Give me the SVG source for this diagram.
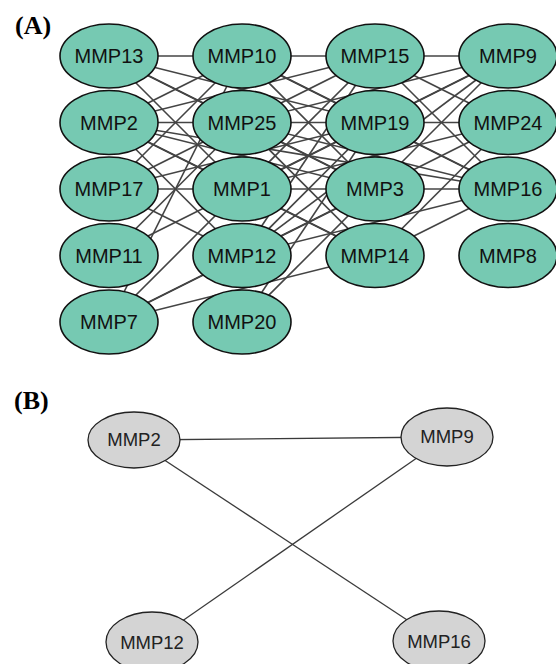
<svg xmlns="http://www.w3.org/2000/svg" width="556" height="664" viewBox="0 0 556 664">
<style>
.lab{font-family:"Liberation Serif","Times New Roman",serif;font-weight:bold;font-size:26px;fill:#000}
.na ellipse{fill:#76c9b2;stroke:#111;stroke-width:1.6}
.na text{font-family:"Liberation Sans",Arial,sans-serif;font-size:20px;fill:#111;text-anchor:middle}
.nb ellipse{fill:#d4d4d4;stroke:#222;stroke-width:1.3}
.nb text{font-family:"Liberation Sans",Arial,sans-serif;font-size:18.5px;fill:#222;text-anchor:middle}
#edgesA line{stroke:#444;stroke-width:1.6}
#edgesB line{stroke:#3a3a3a;stroke-width:1.3}
</style>
<rect width="556" height="664" fill="#fff"/>
<text class="lab" x="15" y="34">(A)</text>
<text class="lab" x="14" y="409">(B)</text>
<g id="edgesA">
<line x1="109" y1="56" x2="242" y2="56"/>
<line x1="242" y1="56" x2="375" y2="56"/>
<line x1="375" y1="56" x2="508" y2="56"/>
<line x1="109" y1="122.5" x2="242" y2="122.5"/>
<line x1="242" y1="122.5" x2="375" y2="122.5"/>
<line x1="375" y1="122.5" x2="508" y2="122.5"/>
<line x1="109" y1="189" x2="242" y2="189"/>
<line x1="242" y1="189" x2="375" y2="189"/>
<line x1="375" y1="189" x2="508" y2="189"/>
<line x1="109" y1="56" x2="242" y2="122.5"/>
<line x1="109" y1="56" x2="242" y2="189"/>
<line x1="109" y1="56" x2="375" y2="122.5"/>
<line x1="109" y1="56" x2="375" y2="189"/>
<line x1="109" y1="122.5" x2="242" y2="56"/>
<line x1="109" y1="122.5" x2="242" y2="189"/>
<line x1="109" y1="122.5" x2="375" y2="56"/>
<line x1="109" y1="122.5" x2="375" y2="189"/>
<line x1="109" y1="122.5" x2="375" y2="255.5"/>
<line x1="109" y1="122.5" x2="242" y2="255.5"/>
<line x1="109" y1="122.5" x2="508" y2="189"/>
<line x1="109" y1="189" x2="242" y2="56"/>
<line x1="109" y1="189" x2="242" y2="122.5"/>
<line x1="109" y1="189" x2="375" y2="122.5"/>
<line x1="109" y1="189" x2="242" y2="255.5"/>
<line x1="109" y1="255.5" x2="242" y2="189"/>
<line x1="109" y1="255.5" x2="242" y2="122.5"/>
<line x1="109" y1="322" x2="242" y2="56"/>
<line x1="109" y1="322" x2="242" y2="189"/>
<line x1="109" y1="322" x2="242" y2="255.5"/>
<line x1="109" y1="322" x2="375" y2="189"/>
<line x1="109" y1="322" x2="375" y2="255.5"/>
<line x1="242" y1="56" x2="375" y2="122.5"/>
<line x1="242" y1="56" x2="375" y2="189"/>
<line x1="242" y1="56" x2="508" y2="189"/>
<line x1="242" y1="122.5" x2="375" y2="56"/>
<line x1="242" y1="122.5" x2="375" y2="189"/>
<line x1="242" y1="122.5" x2="375" y2="255.5"/>
<line x1="242" y1="122.5" x2="508" y2="56"/>
<line x1="242" y1="122.5" x2="508" y2="189"/>
<line x1="242" y1="189" x2="375" y2="56"/>
<line x1="242" y1="189" x2="375" y2="122.5"/>
<line x1="242" y1="189" x2="375" y2="255.5"/>
<line x1="242" y1="189" x2="508" y2="56"/>
<line x1="242" y1="189" x2="508" y2="122.5"/>
<line x1="242" y1="255.5" x2="375" y2="56"/>
<line x1="242" y1="255.5" x2="375" y2="122.5"/>
<line x1="242" y1="255.5" x2="375" y2="189"/>
<line x1="242" y1="255.5" x2="508" y2="56"/>
<line x1="242" y1="255.5" x2="508" y2="189"/>
<line x1="242" y1="322" x2="375" y2="122.5"/>
<line x1="242" y1="322" x2="375" y2="189"/>
<line x1="375" y1="56" x2="508" y2="122.5"/>
<line x1="375" y1="56" x2="508" y2="189"/>
<line x1="375" y1="122.5" x2="508" y2="56"/>
<line x1="375" y1="122.5" x2="508" y2="189"/>
<line x1="375" y1="189" x2="508" y2="56"/>
<line x1="375" y1="189" x2="508" y2="122.5"/>
<line x1="375" y1="255.5" x2="508" y2="122.5"/>
<line x1="375" y1="255.5" x2="508" y2="189"/>
</g>
<g id="MMP13" class="na"><ellipse cx="109" cy="56" rx="49" ry="32"/><text x="109" y="63">MMP13</text></g>
<g id="MMP2" class="na"><ellipse cx="109" cy="122.5" rx="49" ry="32"/><text x="109" y="129.5">MMP2</text></g>
<g id="MMP17" class="na"><ellipse cx="109" cy="189" rx="49" ry="32"/><text x="109" y="196">MMP17</text></g>
<g id="MMP11" class="na"><ellipse cx="109" cy="255.5" rx="49" ry="32"/><text x="109" y="262.5">MMP11</text></g>
<g id="MMP7" class="na"><ellipse cx="109" cy="322" rx="49" ry="32"/><text x="109" y="329">MMP7</text></g>
<g id="MMP10" class="na"><ellipse cx="242" cy="56" rx="49" ry="32"/><text x="242" y="63">MMP10</text></g>
<g id="MMP25" class="na"><ellipse cx="242" cy="122.5" rx="49" ry="32"/><text x="242" y="129.5">MMP25</text></g>
<g id="MMP1" class="na"><ellipse cx="242" cy="189" rx="49" ry="32"/><text x="242" y="196">MMP1</text></g>
<g id="MMP12" class="na"><ellipse cx="242" cy="255.5" rx="49" ry="32"/><text x="242" y="262.5">MMP12</text></g>
<g id="MMP20" class="na"><ellipse cx="242" cy="322" rx="49" ry="32"/><text x="242" y="329">MMP20</text></g>
<g id="MMP15" class="na"><ellipse cx="375" cy="56" rx="49" ry="32"/><text x="375" y="63">MMP15</text></g>
<g id="MMP19" class="na"><ellipse cx="375" cy="122.5" rx="49" ry="32"/><text x="375" y="129.5">MMP19</text></g>
<g id="MMP3" class="na"><ellipse cx="375" cy="189" rx="49" ry="32"/><text x="375" y="196">MMP3</text></g>
<g id="MMP14" class="na"><ellipse cx="375" cy="255.5" rx="49" ry="32"/><text x="375" y="262.5">MMP14</text></g>
<g id="MMP9" class="na"><ellipse cx="508" cy="56" rx="49" ry="32"/><text x="508" y="63">MMP9</text></g>
<g id="MMP24" class="na"><ellipse cx="508" cy="122.5" rx="49" ry="32"/><text x="508" y="129.5">MMP24</text></g>
<g id="MMP16" class="na"><ellipse cx="508" cy="189" rx="49" ry="32"/><text x="508" y="196">MMP16</text></g>
<g id="MMP8" class="na"><ellipse cx="508" cy="255.5" rx="49" ry="32"/><text x="508" y="262.5">MMP8</text></g>
<g id="edgesB">
<line x1="134" y1="440" x2="447" y2="437"/>
<line x1="134" y1="440" x2="439" y2="641"/>
<line x1="447" y1="437" x2="152" y2="642"/>
</g>
<g id="B_MMP2" class="nb"><ellipse cx="134" cy="440" rx="46" ry="28"/><text x="134" y="446">MMP2</text></g>
<g id="B_MMP9" class="nb"><ellipse cx="447" cy="437" rx="46" ry="29"/><text x="447" y="443">MMP9</text></g>
<g id="B_MMP12" class="nb"><ellipse cx="152" cy="642" rx="46" ry="30"/><text x="152" y="649">MMP12</text></g>
<g id="B_MMP16" class="nb"><ellipse cx="439" cy="641" rx="46" ry="30"/><text x="439" y="648">MMP16</text></g>
</svg>
